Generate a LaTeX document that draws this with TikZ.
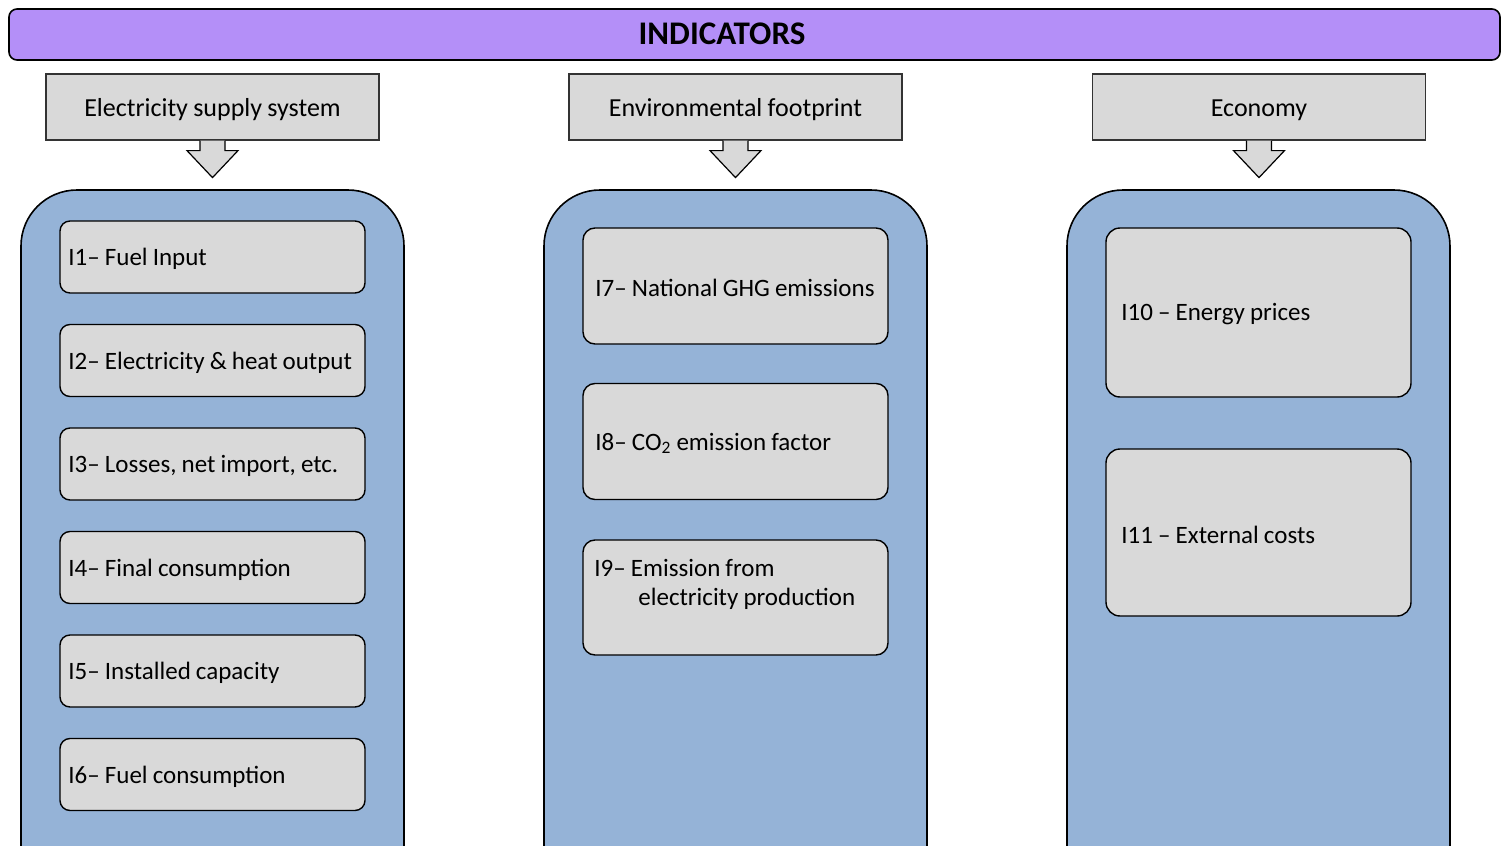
\documentclass[tikz,border=0pt]{standalone}
\usepackage{fontspec}
\setmainfont{Carlito}[WordSpace=0.9]
\usetikzlibrary{calc}
\definecolor{banner}{HTML}{B48FF8}
\definecolor{contblue}{HTML}{95B3D7}
\definecolor{boxgray}{HTML}{D9D9D9}
\begin{document}
\begin{tikzpicture}[x=0.5pt,y=-0.5pt,
  bannerbox/.style={draw=black, line width=0.8pt, fill=banner, rounded corners=4pt},
  hdrbox/.style={draw=black!80, line width=0.6pt, fill=boxgray, minimum width=166.5pt, minimum height=33pt, inner sep=0pt, text height=12.5pt, text depth=3pt, font=\fontsize{13}{15}\selectfont},
  container/.style={draw=black, line width=0.8pt, fill=contblue, rounded corners=28pt},
  leftbox/.style={draw=black, line width=0.7pt, fill=boxgray, rounded corners=5pt, text width=144.5pt, inner xsep=4pt, inner ysep=0pt, minimum height=36pt, align=flush left, font=\fontsize{12.5}{14.5}\selectfont},
  midbox/.style={leftbox, text width=140.5pt, inner xsep=6pt, minimum height=58pt, rounded corners=6pt},
  rightbox/.style={leftbox, text width=137.5pt, inner xsep=7.5pt, rounded corners=7pt},
  blockarrow/.style={draw=black, line width=0.6pt, fill=boxgray, line join=miter},
  lbl/.style={inner sep=0pt, font=\fontsize{12.5}{14.5}\selectfont}
]
\useasboundingbox (0,0) rectangle (1501,846);
\clip (0,0) rectangle (1501,846);
\fill[white] (0,0) rectangle (1501,846);

% banner
\draw[bannerbox] (9,9) rectangle (1500,60);
\node[font=\fontsize{16.5}{18}\selectfont\bfseries] (title) at (722,33.5) {INDICATORS};

% containers
\draw[container] (21,190) rectangle (404,960);
\draw[container] (544,190) rectangle (927,960);
\draw[container] (1067,190) rectangle (1450,960);

% headers
\node[hdrbox] (h1) at (212.5,107) {Electricity supply system};
\node[hdrbox] (h2) at (735.5,107) {Environmental footprint};
\node[hdrbox] (h3) at (1259,107) {Economy};

% arrows
\foreach \h in {h1,h2,h3}{
  \draw[blockarrow] (\h.south) ++(-12.5,0) -- ++(0,10) -- ++(-13,0) -- ++(25.5,27) -- ++(25.5,-27) -- ++(-13,0) -- ++(0,-10);
}

% left column
\node[leftbox] (i1) at (212.5,257) {};
\node[leftbox] (i2) at (212.5,360.5) {};
\node[leftbox] (i3) at (212.5,464) {};
\node[leftbox] (i4) at (212.5,567.5) {};
\node[leftbox] (i5) at (212.5,671) {};
\node[leftbox] (i6) at (212.5,774.5) {};
\node[lbl, anchor=west] (t1) at (68,259) {I1– Fuel Input};
\node[lbl, anchor=west] (t2) at (68,362.5) {I2– Electricity \& heat output};
\node[lbl, anchor=west] (t3) at (68,466) {I3– Losses, net import, etc.};
\node[lbl, anchor=west] (t4) at (68,569.5) {I4– Final consumption};
\node[lbl, anchor=west] (t5) at (68,673) {I5– Installed capacity};
\node[lbl, anchor=west] (t6) at (68,776.5) {I6– Fuel consumption};

% middle column
\node[midbox] (i7) at (735.5,286) {};
\node[midbox] (i8) at (735.5,441.5) {};
\node[midbox, minimum height=57.5pt] (i9) at (735.5,597.5) {};
\node[lbl, anchor=west] (t7) at (595,288) {I7– National GHG emissions};
\node[lbl, anchor=west] (t8) at (595,443.5) {I8– CO\textsubscript{2} emission factor};
\node[lbl, anchor=west, align=left] (t9) at (594,584) {I9– Emission from\\\hspace*{22pt}electricity production};

% right column
\node[rightbox, minimum height=84.5pt] (i10) at (1258.5,312.5) {};
\node[rightbox, minimum height=83.5pt] (i11) at (1258.5,532.5) {};
\node[lbl, anchor=west] (t10) at (1121,314.5) {I10 – Energy prices};
\node[lbl, anchor=west] (t11) at (1121,534.5) {I11 – External costs};
\end{tikzpicture}
\end{document}
